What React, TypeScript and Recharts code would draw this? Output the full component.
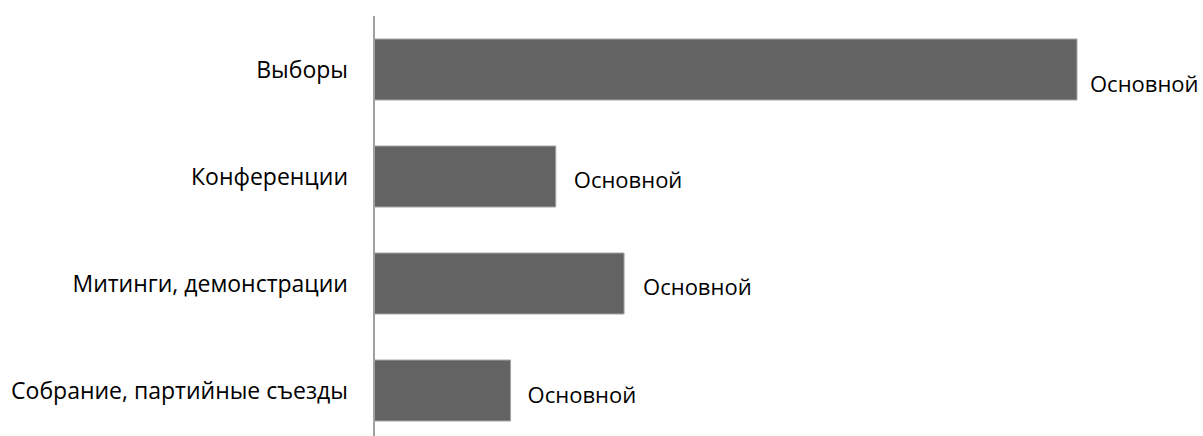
import React from 'react';
import { BarChart, Bar, XAxis, YAxis, LabelList } from 'recharts';

const categories = ['Выборы', 'Конференции', 'Митинги, демонстрации', 'Собрание, партийные съезды'];
const values = [70, 18.1, 24.9, 13.6];
const labels = ['Основной', 'Основной', 'Основной', 'Основной'];
const labelShift = [13, 2, 2, 3];
const labelGap = [13, 18, 19, 17];

const data = categories.map((name, i) => ({ name, value: values[i], label: labels[i] }));

const FONT = '"Open Sans", "Noto Sans", sans-serif';

const BarLabel = (props: any) => {
  const { x, y, width, height, index } = props;
  return (
    <text
      x={x + width + labelGap[index]}
      y={y + height / 2 + labelShift[index]}
      dominantBaseline="central"
      fontSize={22}
      fontFamily={FONT}
      fill="#000"
    >
      {labels[index]}
    </text>
  );
};

export default function App() {
  return (
    <div style={{ position: 'absolute', left: 0, top: 0, width: 1203, height: 436, overflow: 'hidden', background: '#fff', fontFamily: FONT }}>
      <BarChart
        width={1203}
        height={444}
        data={data}
        layout="vertical"
        margin={{ top: 16, right: 126, bottom: 0, left: 0 }}
      >
        <XAxis type="number" domain={[0, 70]} hide />
        <YAxis
          type="category"
          dataKey="name"
          width={374}
          tickLine={false}
          tickSize={0}
          tickMargin={26}
          axisLine={{ stroke: '#a0a0a0', strokeWidth: 2 }}
          tick={{ fill: '#000', fontSize: 23, fontFamily: FONT }}
        />
        <Bar dataKey="value" fill="#636363" stroke="#a6a6a6" strokeWidth={1} barSize={61} isAnimationActive={false}>
          <LabelList dataKey="label" content={<BarLabel />} />
        </Bar>
      </BarChart>
    </div>
  );
}
